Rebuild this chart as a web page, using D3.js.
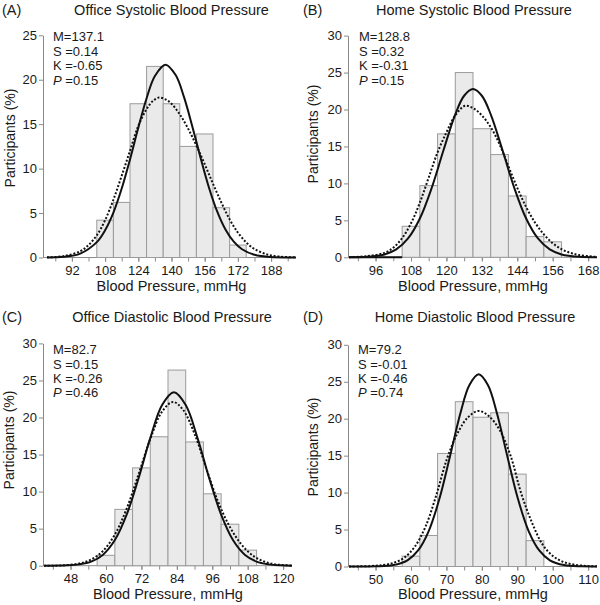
<!DOCTYPE html>
<html><head><meta charset="utf-8">
<script src="https://cdn.jsdelivr.net/npm/d3@7"></script>
<style>
body{margin:0;background:#fff}
svg{display:block}
text{font-family:"Liberation Sans",Arial,Helvetica,sans-serif;fill:#1a1a1a}
</style>
</head><body>
<svg id="chart" width="600" height="605"></svg>
<script>
// ---------- Panel A: Office systolic ----------
const aBinCenters = [108,116,124,132,140,148,156,164,172];
const aPercent    = [4.2,6.2,17.3,21.5,17.3,12.5,13.9,5.6,1.4];
const aTickLabels = [92,108,124,140,156,172,188];
const aYTicks     = [0,5,10,15,20,25];
const aStats      = ["M=137.1","S =0.14","K =-0.65","=0.15"];
const aSolidX = [80,88,96,104,108,112,116,120,124,128,132,137.1,142,146,150,154,158,162,166,170,174,180,188,196,200];
const aSolidY = [0.01,0.08,0.44,1.73,3.07,5.06,7.76,11.04,14.6,17.92,20.43,21.7,20.53,18.07,14.77,11.22,7.91,5.18,3.15,1.78,0.93,0.31,0.05,0.005,0];
const aDotX = [80,88,96,100,104,108,112,116,120,124,128,131,134,137,140,144,148,152,156,160,164,168,172,176,180,186,192,200];
const aDotY = [0.02,0.15,0.7,1.4,2.5,4.2,6.5,9.2,12.0,14.8,16.7,17.6,18.0,17.8,17.3,16.1,14.5,12.6,10.5,8.3,6.2,4.3,2.8,1.7,0.95,0.35,0.1,0.02];

// ---------- Panel B: Home systolic ----------
const bBinCenters = [108,114,120,126,132,138,144,150,156];
const bPercent    = [4.2,9.7,16.7,25.0,17.4,13.9,8.3,2.8,2.1];
const bTickLabels = [96,108,120,132,144,156,168];
const bYTicks     = [0,5,10,15,20,25,30];
const bStats      = ["M=128.8","S =0.32","K =-0.31","=0.15"];
const bSolidX = [87,93,99,103,107,111,115,119,123,126,129,132,135,139,143,147,151,155,159,165,171];
const bSolidY = [0.01,0.06,0.39,1.07,2.55,5.25,9.38,14.48,19.35,21.86,22.77,21.86,19.35,14.48,9.38,5.25,2.55,1.07,0.39,0.06,0.01];
const bDotX = [87,93,99,102,105,108,111,114,117,120,123,126.3,129,132,135,138,141,144,147,150,153,156,159,162,165,171];
const bDotY = [0.02,0.15,0.6,1.3,2.6,4.6,7.4,10.8,14.2,16.9,19.2,20.5,20.2,19.2,17.6,15.3,12.3,9.4,6.8,4.7,3.1,1.9,1.1,0.6,0.3,0.05];

// ---------- Panel C: Office diastolic ----------
const cBinCenters = [60,66,72,78,84,90,96,102,108];
const cPercent    = [1.4,7.6,13.2,17.4,26.4,16.7,9.7,5.6,2.1];
const cTickLabels = [48,60,72,84,96,108,120];
const cYTicks     = [0,5,10,15,20,25,30];
const cStats      = ["M=82.7","S =0.15","K =-0.26","=0.46"];
const cSolidX = [39,47,51,55,59,63,67,71,75,79,83,87,91,95,99,103,107,111,115,119,123];
const cSolidY = [0,0.05,0.18,0.55,1.49,3.46,6.89,11.76,17.23,21.68,23.4,21.68,17.23,11.76,6.89,3.46,1.49,0.55,0.18,0.05,0.01];
const cDotX = [39,45,51,55,59,63,67,71,75,79,82.7,86,90,94,98,102,106,110,114,118,123];
const cDotY = [0,0.04,0.3,0.84,2.0,4.2,7.7,12.3,17.1,20.8,22.1,21.1,17.8,13.1,8.6,5.2,2.8,1.3,0.5,0.15,0.03];

// ---------- Panel D: Home diastolic ----------
const dBinCenters = [60,65,70,75,80,85,90,95];
const dPercent    = [1.4,4.2,15.3,22.3,20.2,20.8,12.5,3.5];
const dTickLabels = [50,60,70,80,90,100,110];
const dYTicks     = [0,5,10,15,20,25,30];
const dStats      = ["M=79.2","S =-0.01","K =-0.46","=0.74"];
const dSolidX = [42.5,50,55,59,62,65,68,71,74,76.5,79.1,81.7,84.2,87.2,90.2,93.2,96.2,99.2,103.2,108.2,112.5];
const dSolidY = [0,0.02,0.19,0.84,2.17,4.8,9.13,14.89,20.84,24.55,26.0,24.55,20.84,14.89,9.13,4.8,2.17,0.84,0.19,0.02,0];
const dDotX = [42.5,48.1,52.1,55.1,58.1,61.1,64.1,67.1,70.1,73.1,76.1,79.1,82.1,85.1,88.1,91.1,94.1,97.1,100.1,103.1,106.1,110.1,112.5];
const dDotY = [0.01,0.05,0.2,0.5,1.2,2.7,5.4,9.6,14.5,18.0,20.2,21.05,20.3,18.4,15.0,9.9,6.0,3.0,1.4,0.6,0.25,0.06,0.02];

const panels = [
  {tag:"(A)", title:"Office Systolic Blood Pressure", centers:aBinCenters, pct:aPercent, binW:8,
   labels:aTickLabels, minor:[84,196,8], yTicks:aYTicks, stats:aStats,
   solid:[aSolidX,aSolidY], dotted:[aDotX,aDotY], xDomain:[80,200],
   L:47, R:296, axX:43, y0:257.5, yTop:35.3, tagX:2, titleX:171.5, titleY:15,
   statX:53, statY:[41,55.5,70,84.5], yLabX:15, yLabY:138, xLabY:291, zeroTo:null},
  {tag:"(B)", title:"Home Systolic Blood Pressure", centers:bBinCenters, pct:bPercent, binW:6,
   labels:bTickLabels, minor:[90,168,6], yTicks:bYTicks, stats:bStats,
   solid:[bSolidX,bSolidY], dotted:[bDotX,bDotY], xDomain:[87,171],
   L:349, R:597, axX:348, y0:257.3, yTop:35.6, tagX:303, titleX:474, titleY:15,
   statX:359, statY:[41,55.5,70,84.5], yLabX:318, yLabY:134, xLabY:291, zeroTo:105},
  {tag:"(C)", title:"Office Diastolic Blood Pressure", centers:cBinCenters, pct:cPercent, binW:6,
   labels:cTickLabels, minor:[42,120,6], yTicks:cYTicks, stats:cStats,
   solid:[cSolidX,cSolidY], dotted:[cDotX,cDotY], xDomain:[39,123],
   L:44, R:292, axX:43, y0:565.7, yTop:343.4, tagX:2, titleX:172, titleY:322,
   statX:53, statY:[354,368.5,382.5,397], yLabX:14, yLabY:440, xLabY:599, zeroTo:null},
  {tag:"(D)", title:"Home Diastolic Blood Pressure", centers:dBinCenters, pct:dPercent, binW:5,
   labels:dTickLabels, minor:[45,110,5], yTicks:dYTicks, stats:dStats,
   solid:[dSolidX,dSolidY], dotted:[dDotX,dDotY], xDomain:[42.5,112.5],
   L:349, R:597, axX:348, y0:566.5, yTop:344.8, tagX:303, titleX:475, titleY:322,
   statX:358, statY:[354,368.5,382.5,397], yLabX:318, yLabY:447, xLabY:599, zeroTo:null}
];

const svg = d3.select("#chart");
const axisColor = "#8a8a8a";

panels.forEach(p => {
  const g = svg.append("g");
  const x = d3.scaleLinear().domain(p.xDomain).range([p.L, p.R]);
  const yMax = p.yTicks[p.yTicks.length-1];
  const y = d3.scaleLinear().domain([0, yMax]).range([p.y0, p.yTop]);

  // titles
  g.append("text").attr("x", p.tagX).attr("y", p.titleY).attr("font-size", 14.5).text(p.tag);
  g.append("text").attr("x", p.titleX).attr("y", p.titleY).attr("font-size", 14.5)
    .attr("text-anchor","middle").text(p.title);

  // x axis: minor ticks (no labels) + labelled ticks
  const minorVals = d3.range(p.minor[0], p.minor[1] + 0.001, p.minor[2]);
  const gMinor = g.append("g").attr("transform", `translate(0,${p.y0})`)
    .call(d3.axisBottom(x).tickValues(minorVals).tickFormat("").tickSize(4).tickSizeOuter(0));
  gMinor.select(".domain").remove();
  gMinor.selectAll(".tick text").remove();
  gMinor.selectAll("line").attr("stroke", axisColor);

  const gx = g.append("g").attr("transform", `translate(0,${p.y0})`)
    .call(d3.axisBottom(x).tickValues(p.labels).tickSize(4).tickSizeOuter(0).tickPadding(4));
  gx.select(".domain").remove();
  gx.selectAll("line").attr("stroke", axisColor);
  gx.selectAll("text").attr("font-size", 13).style("font-family","Liberation Sans, Arial, sans-serif").attr("fill","#1a1a1a");
  g.append("line").attr("x1", p.axX).attr("x2", p.R).attr("y1", p.y0).attr("y2", p.y0)
    .attr("stroke", axisColor).attr("stroke-width", 1);

  // y axis
  const yAxis = d3.axisLeft(y).tickValues(p.yTicks).tickSize(4).tickSizeOuter(0).tickPadding(2);
  const gy = g.append("g").attr("transform", `translate(${p.axX},0)`).call(yAxis);
  gy.select(".domain").attr("stroke", axisColor);
  gy.selectAll("line").attr("stroke", axisColor);
  gy.selectAll("text").attr("font-size", 13).style("font-family","Liberation Sans, Arial, sans-serif").attr("fill","#1a1a1a");

  // axis titles
  g.append("text").attr("transform", `translate(${p.yLabX},${p.yLabY}) rotate(-90)`)
    .attr("text-anchor","middle").attr("font-size", 14).text("Participants (%)");
  g.append("text").attr("x", (p.L + p.R)/2).attr("y", p.xLabY)
    .attr("text-anchor","middle").attr("font-size", 14.5).text("Blood Pressure, mmHg");

  // bars
  g.append("g").selectAll("rect").data(p.centers).join("rect")
    .attr("x", (c) => x(c - p.binW/2))
    .attr("width", (c) => x(c + p.binW/2) - x(c - p.binW/2))
    .attr("y", (c,i) => y(p.pct[i]))
    .attr("height", (c,i) => p.y0 - y(p.pct[i]))
    .attr("fill", "#eaeaea").attr("stroke", "#9b9b9b").attr("stroke-width", 1);

  if (p.zeroTo !== null) {
    g.append("line").attr("x1", x(p.xDomain[0])).attr("x2", x(p.zeroTo))
      .attr("y1", y(0)).attr("y2", y(0)).attr("stroke", "#111").attr("stroke-width", 2);
  }

  // curves
  const line = d3.line().x(d => x(d[0])).y(d => y(d[1])).curve(d3.curveCatmullRom.alpha(0.5));
  const solidPts = p.solid[0].map((v,i) => [v, p.solid[1][i]]);
  const dotPts = p.dotted[0].map((v,i) => [v, p.dotted[1][i]]);
  g.append("path").attr("d", line(dotPts)).attr("fill","none").attr("stroke","#111")
    .attr("stroke-width", 2).attr("stroke-dasharray","2,1.8");
  g.append("path").attr("d", line(solidPts)).attr("fill","none").attr("stroke","#111")
    .attr("stroke-width", 2);

  // stats
  p.stats.forEach((s, i) => {
    const t = g.append("text").attr("x", p.statX).attr("y", p.statY[i]).attr("font-size", 13);
    if (i === 3) {
      t.append("tspan").attr("font-style","italic").text("P");
      t.append("tspan").text(" " + s);
    } else {
      t.text(s);
    }
  });
});
</script>
</body></html>
